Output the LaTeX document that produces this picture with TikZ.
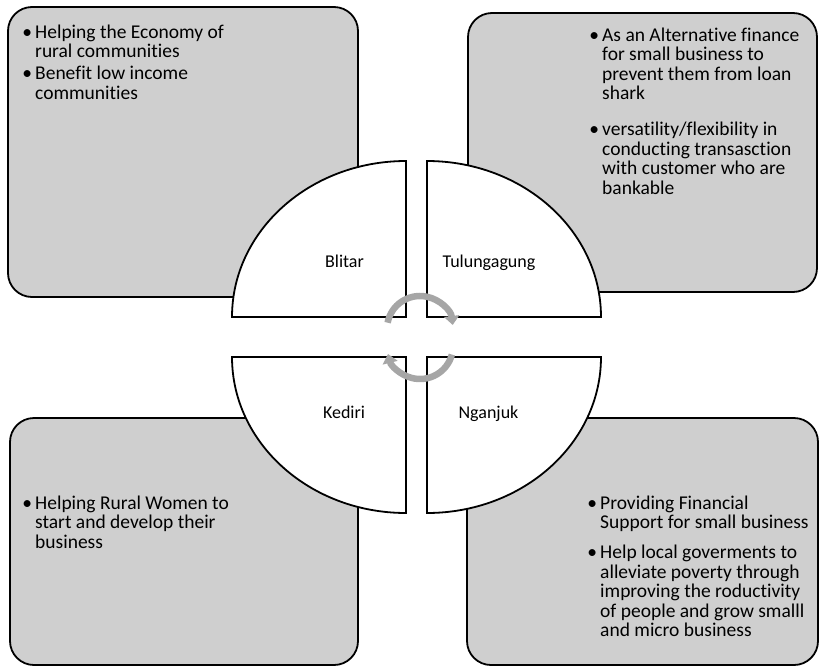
\documentclass[tikz,border=0pt]{standalone}
\usepackage{fontspec}
\setmainfont[Ligatures={NoCommon,NoContextual}]{Carlito}
\usetikzlibrary{arrows.meta}

\definecolor{panelgray}{RGB}{207,207,207}
\definecolor{cyclegray}{RGB}{166,166,166}

\tikzset{
  panel/.style={fill=panelgray,draw=black,line width=1.8pt,rounded corners=24pt},
  quarter/.style={fill=white,draw=black,line width=1.8pt},
  city/.style={font=\fontsize{18}{20}\selectfont,inner sep=0pt,anchor=base},
  points/.style={font=\fontsize{19.5}{19.5}\selectfont,align=left,anchor=north west,inner sep=0pt},
  turn/.style={draw=cyclegray,line width=6.5pt,-{Triangle[width=15pt,length=9pt]}}
}
\newcommand{\bul}{\rule{0pt}{14pt}\llap{\textbullet\hspace{3pt}}}

\begin{document}
\begin{tikzpicture}[x=1pt,y=-1pt]
\useasboundingbox (0,0) rectangle (819,667);

% corner panels
\draw[panel] (8,7) rectangle (358,297);
\draw[panel] (468,13) rectangle (817,292);
\draw[panel] (10,418) rectangle (358,665);
\draw[panel] (467,418) rectangle (818,665);

% the four quarters of the centre disc
\draw[quarter] (406,317) -- (232,317) arc[start angle=180,end angle=270,x radius=174,y radius=156] -- cycle;
\draw[quarter] (427,161) arc[start angle=270,end angle=360,x radius=174,y radius=156] -- (427,317) -- cycle;
\draw[quarter] (406,357) -- (232,357) arc[start angle=180,end angle=90,x radius=174,y radius=156] -- cycle;
\draw[quarter] (427,357) -- (601,357) arc[start angle=0,end angle=90,x radius=174,y radius=156] -- cycle;

\node[city] (blitar) at (344.5,267) {Blitar};
\node[city] (tulung) at (489,267) {Tulungagung};
\node[city] (kediri) at (344,418) {Kediri};
\node[city] (nganjuk) at (488.5,418) {Nganjuk};

% cycle arrows in the middle
\draw[turn] (420,329) ++(191:33) arc[start angle=191,end angle=353,radius=33];
\draw[turn] (420,346) ++(15:33) arc[start angle=15,end angle=166,radius=33];

% notes
\node[points] (blitarnotes) at (35,24)
  {\bul Helping the Economy of\\ rural communities\\[2.5pt]
   \bul Benefit low income\\ communities};
\node[points] (tulungnotes) at (602,27)
  {\bul As an Alternative finance\\ for small business to\\ prevent them from loan\\ shark\\[16.5pt]
   \bul versatility/flexibility in\\ conducting transasction\\ with customer who are\\ bankable};
\node[points] (kedirinotes) at (35,495)
  {\bul Helping Rural Women to\\ start and develop their\\ business};
\node[points] (nganjuknotes) at (600,495)
  {\bul Providing Financial\\ Support for small business\\[10.5pt]
   \bul Help local goverments to\\ alleviate poverty through\\ improving the roductivity\\ of people and grow smalll\\ and micro business};
\end{tikzpicture}
\end{document}
